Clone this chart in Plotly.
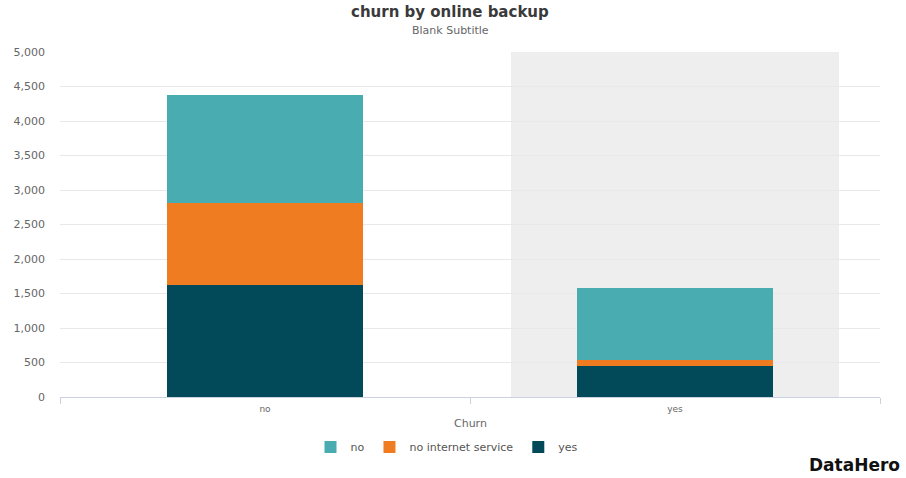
import plotly.graph_objects as go

# Churn counts broken down by the OnlineBackup field
churn = ["no", "yes"]
backup_yes = [1630, 445]
backup_no_internet = [1180, 96]
backup_no = [1570, 1034]

y_ticks = [0, 500, 1000, 1500, 2000, 2500, 3000, 3500, 4000, 4500, 5000]
y_tick_text = ["0", "500", "1,000", "1,500", "2,000", "2,500", "3,000",
               "3,500", "4,000", "4,500", "5,000"]

FONT = "'DejaVu Sans', 'Open Sans', sans-serif"
colors = {"yes": "#02495A", "no internet service": "#F07C22", "no": "#48ACB1"}

# plot area geometry (pixels) used to place free text in paper units
L, R, T, B, W, H = 60, 26, 52, 81, 906, 478
PW, PH = W - L - R, H - T - B


def px_x(x):
    return (x - L) / PW


def px_y(y):
    return (H - B - y) / PH


fig = go.Figure()
for name, vals in [("yes", backup_yes),
                   ("no internet service", backup_no_internet),
                   ("no", backup_no)]:
    fig.add_trace(go.Bar(
        x=churn, y=vals, name=name, width=0.48,
        marker=dict(color=colors[name], line=dict(width=0)),
        hoverinfo="skip",
    ))

# highlighted band behind the second category
fig.add_shape(type="rect", xref="x", yref="y", x0=0.6, x1=1.4, y0=0, y1=5000,
              fillcolor="#EEEEEE", line=dict(width=0), layer="below")

fig.update_layout(
    barmode="stack",
    width=W, height=H,
    margin=dict(l=L, r=R, t=T, b=B),
    paper_bgcolor="white", plot_bgcolor="white",
    font=dict(family=FONT, color="#555555", size=11),
    showlegend=True,
    legend=dict(orientation="h", traceorder="reversed",
                x=px_x(447), xanchor="center", y=px_y(447), yanchor="middle",
                font=dict(size=11, color="#555555"),
                itemwidth=30, tracegroupgap=0),
    xaxis=dict(
        type="category", range=[-0.5, 1.5],
        showgrid=False, showline=True, linecolor="#C9D2DE", linewidth=1,
        ticks="outside", tickson="boundaries", ticklen=6, tickcolor="#C9D2DE",
        tickfont=dict(size=9, color="#666666"), ticklabelstandoff=3,
    ),
    yaxis=dict(
        range=[0, 5000], tickvals=y_ticks, ticktext=y_tick_text,
        showgrid=True, gridcolor="#E8E8E8", gridwidth=1,
        zeroline=False, showline=False, ticks="",
        tickfont=dict(size=11, color="#666666"), ticklabelstandoff=14,
    ),
    annotations=[
        dict(text="<b>churn by online backup</b>", xref="paper", yref="paper",
             x=px_x(450), y=px_y(12), xanchor="center", yanchor="middle",
             showarrow=False, font=dict(size=15, color="#3A3A3A")),
        dict(text="Blank Subtitle", xref="paper", yref="paper",
             x=px_x(450), y=px_y(30), xanchor="center", yanchor="middle",
             showarrow=False, font=dict(size=11, color="#666666")),
        dict(text="Churn", xref="paper", yref="paper",
             x=px_x(470), y=px_y(423), xanchor="center", yanchor="middle",
             showarrow=False, font=dict(size=11, color="#666666")),
        dict(text="<b>DataHero</b>", xref="paper", yref="paper",
             x=px_x(902), y=px_y(465), xanchor="right", yanchor="middle",
             showarrow=False, font=dict(size=17, color="#111111",
                                        family="'DejaVu Sans', sans-serif")),
    ],
)

fig.write_html("out.html")
